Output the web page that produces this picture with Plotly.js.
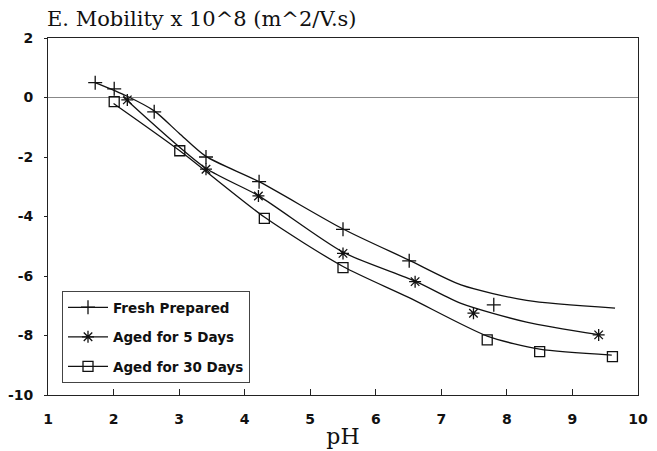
<!DOCTYPE html>
<html>
<head>
<meta charset="utf-8">
<script src="https://cdn.plot.ly/plotly-3.0.1.min.js"></script>
<style>html,body{margin:0;padding:0;background:#fff;}#chart{width:657px;height:451px;}</style>
</head>
<body>
<div id="chart"></div>
<script>
// ---- data ----
const seriesNames = ["Fresh Prepared", "Aged for 5 Days", "Aged for 30 Days"];

// measured points (markers)
const freshPH = [1.72, 2.01, 2.62, 3.41, 4.22, 5.5, 6.51, 7.8];
const freshMob = [0.50, 0.29, -0.48, -2.0, -2.83, -4.43, -5.49, -6.97];
const aged5PH = [2.21, 3.41, 4.21, 5.5, 6.6, 7.49, 9.4];
const aged5Mob = [-0.08, -2.41, -3.31, -5.24, -6.19, -7.25, -7.98];
const aged30PH = [2.01, 3.01, 4.3, 5.5, 7.7, 8.5, 9.61];
const aged30Mob = [-0.14, -1.79, -4.06, -5.72, -8.15, -8.54, -8.71];

// fitted curves (lines)
const freshFitPH = [1.72, 2.2, 2.62, 3.0, 3.41, 4.22, 5.5, 6.5, 7.3, 8.3, 9.65];
const freshFitMob = [0.50, 0.05, -0.45, -1.2, -1.98, -2.83, -4.42, -5.46, -6.3, -6.82, -7.08];
const aged5FitPH = [2.15, 3.41, 4.21, 5.5, 6.6, 7.3, 8.3, 9.4];
const aged5FitMob = [0.02, -2.38, -3.3, -5.2, -6.17, -6.92, -7.55, -7.97];
const aged30FitPH = [2.0, 3.01, 4.3, 5.5, 6.5, 7.7, 8.5, 9.6];
const aged30FitMob = [-0.2, -1.79, -4.02, -5.68, -6.72, -8.02, -8.46, -8.66];

const xTickVals = [1, 2, 3, 4, 5, 6, 7, 8, 9, 10];
const xTickText = ["1", "2", "3", "4", "5", "6", "7", "8", "9", "10"];
const yTickVals = [-10, -8, -6, -4, -2, 0, 2];
const yTickText = ["-10", "-8", "-6", "-4", "-2", "0", "2"];

const titleText = "E. Mobility x 10^8 (m^2/V.s)";
const xTitle = "pH";

// ---- styling ----
const symbols = ["cross-thin-open", "asterisk-open", "square-open"];
const sizes = [10, 10, 10];
const pts = [[freshPH, freshMob], [aged5PH, aged5Mob], [aged30PH, aged30Mob]];
const fits = [[freshFitPH, freshFitMob], [aged5FitPH, aged5FitMob], [aged30FitPH, aged30FitMob]];

const traces = [];
for (let i = 0; i < 3; i++) {
  traces.push({
    x: fits[i][0], y: fits[i][1], mode: "lines", type: "scatter",
    line: {color: "#111", width: 1.3, shape: "spline", smoothing: 0.7},
    showlegend: false, hoverinfo: "skip"
  });
  traces.push({
    x: pts[i][0], y: pts[i][1], mode: "markers", type: "scatter",
    marker: {symbol: symbols[i], size: sizes[i], color: "#111", line: {color: "#111", width: 1.3}},
    showlegend: false
  });
  // legend entry (line + marker)
  traces.push({
    x: [null], y: [null], mode: "lines+markers", type: "scatter", name: seriesNames[i],
    line: {color: "#111", width: 1.3},
    marker: {symbol: symbols[i], size: sizes[i], color: "#111", line: {color: "#111", width: 1.3}},
    legendgroup: "g" + i
  });
}

const layout = {
  width: 657, height: 451,
  margin: {l: 48, r: 19, t: 38, b: 56},
  paper_bgcolor: "#fff", plot_bgcolor: "#fff",
  title: {
    text: titleText, x: 47 / 657, xanchor: "left", xref: "container",
    y: 1 - 19 / 451, yanchor: "middle", yref: "container",
    font: {family: "DejaVu Serif", size: 21, color: "#111"}
  },
  xaxis: {
    range: [1, 10], tickvals: xTickVals, ticktext: xTickText,
    ticks: "inside", ticklen: 6, tickcolor: "#222",
    showline: true, linecolor: "#222", linewidth: 1, mirror: true,
    showgrid: false, zeroline: false,
    ticklabelstandoff: 11,
    tickfont: {family: "DejaVu Sans", size: 14, color: "#111", weight: "bold"},
    title: {text: xTitle, standoff: 2, font: {family: "DejaVu Serif", size: 22, color: "#111"}}
  },
  yaxis: {
    range: [-10, 2], tickvals: yTickVals, ticktext: yTickText,
    ticks: "outside", ticklen: 3, tickcolor: "#222",
    showline: true, linecolor: "#222", linewidth: 1, mirror: true,
    showgrid: false, zeroline: true, zerolinecolor: "#888", zerolinewidth: 1,
    ticklabelstandoff: 8,
    tickfont: {family: "DejaVu Sans", size: 14, color: "#111", weight: "bold"}
  },
  legend: {
    x: 14 / 590, y: (395 - 291) / 357, xanchor: "left", yanchor: "top",
    bgcolor: "#fff", bordercolor: "#444", borderwidth: 1,
    itemwidth: 40, tracegroupgap: 9,
    font: {family: "DejaVu Sans", size: 13.5, color: "#111", weight: "bold"}
  },
  showlegend: true
};

Plotly.newPlot("chart", traces, layout, {staticPlot: true, displayModeBar: false});
</script>
</body>
</html>
